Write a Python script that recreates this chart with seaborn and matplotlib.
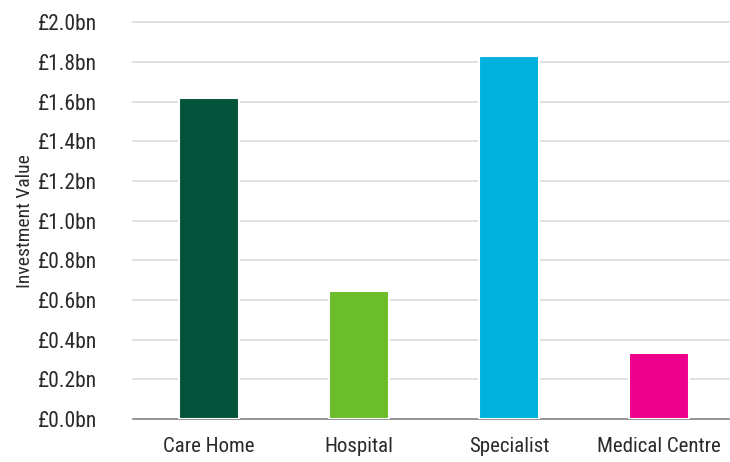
import matplotlib
matplotlib.use("Agg")
import matplotlib.pyplot as plt
import seaborn as sns
import pandas as pd
from matplotlib import font_manager

categories = ["Care Home", "Hospital", "Specialist", "Medical Centre"]
values = [1.62, 0.645, 1.83, 0.335]
colors = ["#03543A", "#6BBE2A", "#00B1DD", "#EC008C"]
yticks = [0.0, 0.2, 0.4, 0.6, 0.8, 1.0, 1.2, 1.4, 1.6, 1.8, 2.0]
ylabel = "Investment Value"

sns.set_theme(style="white")
fonts = font_manager.fontManager.ttflist
names = {f.name for f in fonts}
stretch = "normal"
fam = "DejaVu Sans"
for cand in ["Liberation Sans Narrow", "Roboto Condensed", "Open Sans Condensed", "DejaVu Sans Condensed"]:
    if cand in names:
        fam = cand
        break
else:
    if any(f.name == "DejaVu Sans" and f.stretch == "condensed" for f in fonts):
        stretch = "condensed"
plt.rcParams["font.family"] = [fam, "DejaVu Sans"]
plt.rcParams["font.stretch"] = stretch

df = pd.DataFrame({"cat": categories, "val": values})

fig = plt.figure(figsize=(7.30, 4.62), dpi=100)
ax = fig.add_axes([0.182, 0.093, 0.817, 0.859])
sns.barplot(data=df, x="cat", y="val", hue="cat", palette=colors, legend=False,
            saturation=1, width=0.4, ax=ax, edgecolor="white", linewidth=1.5, zorder=3)

txt = "#2A2A2A"
ax.set_ylim(0, 2.0)
ax.set_xlim(-0.507, 3.47)
ax.set_yticks(yticks)
ax.set_yticklabels([f"£{t:.1f}bn" for t in yticks], fontsize=15.5, color=txt)
ax.tick_params(axis="y", length=0, pad=26)
ax.tick_params(axis="x", length=0, pad=13, labelsize=15, labelcolor=txt)
ax.set_xlabel("")
ax.set_ylabel(ylabel, fontsize=14, color=txt, labelpad=8)
ax.yaxis.set_label_coords(-0.166, 0.5)

ax.grid(axis="y", color="#DDDDDD", linewidth=1.3, zorder=0)
ax.set_axisbelow(True)
for g in ax.get_ygridlines():
    g.set_clip_on(False)
for s in ["top", "right", "left"]:
    ax.spines[s].set_visible(False)
ax.spines["bottom"].set_color("#888888")
ax.spines["bottom"].set_linewidth(1.2)

fig.savefig("out.png", dpi=100, facecolor="white")
